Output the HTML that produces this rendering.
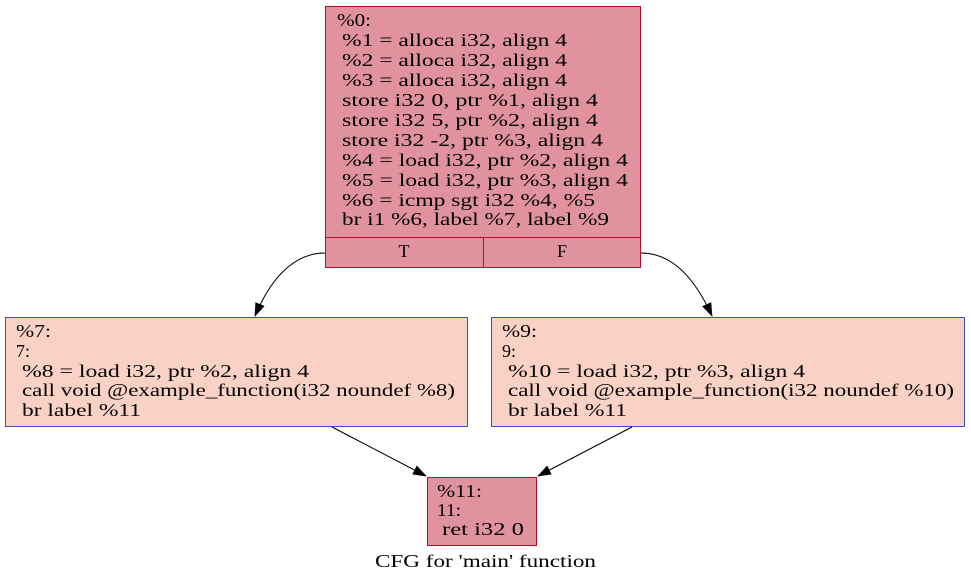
<!DOCTYPE html>
<html><head><meta charset="utf-8"><style>html,body{margin:0;padding:0;background:#fff}svg{display:block}text{font-family:"Liberation Serif","DejaVu Serif",serif;font-size:18px;fill:#000}</style></head><body>
<svg width="971" height="584" viewBox="0 0 971 584" xmlns="http://www.w3.org/2000/svg">
<defs><marker id="a" markerWidth="14" markerHeight="12" refX="13" refY="6" orient="auto" markerUnits="userSpaceOnUse"><path d="M0,1 L14,6 L0,11 z" fill="#000"/></marker></defs>
<rect x="325.5" y="6.5" width="315" height="261" fill="#e0939e" stroke="#b70d28"/>
<line x1="325.5" y1="237.5" x2="640.5" y2="237.5" stroke="#b70d28"/>
<line x1="483.5" y1="237.5" x2="483.5" y2="267.5" stroke="#b70d28"/>
<g lengthAdjust="spacingAndGlyphs">
<text x="337" y="26" textLength="34" lengthAdjust="spacingAndGlyphs">%0:</text>
<text x="342" y="46" textLength="225" lengthAdjust="spacingAndGlyphs">%1 = alloca i32, align 4</text>
<text x="342" y="66" textLength="225" lengthAdjust="spacingAndGlyphs">%2 = alloca i32, align 4</text>
<text x="342" y="86" textLength="225" lengthAdjust="spacingAndGlyphs">%3 = alloca i32, align 4</text>
<text x="342" y="106" textLength="256" lengthAdjust="spacingAndGlyphs">store i32 0, ptr %1, align 4</text>
<text x="342" y="126" textLength="256" lengthAdjust="spacingAndGlyphs">store i32 5, ptr %2, align 4</text>
<text x="342" y="146" textLength="261" lengthAdjust="spacingAndGlyphs">store i32 -2, ptr %3, align 4</text>
<text x="342" y="166" textLength="286" lengthAdjust="spacingAndGlyphs">%4 = load i32, ptr %2, align 4</text>
<text x="342" y="186" textLength="286" lengthAdjust="spacingAndGlyphs">%5 = load i32, ptr %3, align 4</text>
<text x="342" y="206" textLength="253" lengthAdjust="spacingAndGlyphs">%6 = icmp sgt i32 %4, %5</text>
<text x="342" y="225" textLength="267" lengthAdjust="spacingAndGlyphs">br i1 %6, label %7, label %9</text>
<text x="404" y="257" text-anchor="middle">T</text>
<text x="562" y="257" text-anchor="middle">F</text>
</g>
<rect x="5.5" y="317.5" width="462" height="109" fill="#f9d2c5" stroke="#3d50c3"/>
<text x="16" y="337" textLength="35" lengthAdjust="spacingAndGlyphs">%7:</text>
<text x="16" y="357" textLength="14" lengthAdjust="spacingAndGlyphs">7:</text>
<text x="22" y="377" textLength="287" lengthAdjust="spacingAndGlyphs">%8 = load i32, ptr %2, align 4</text>
<text x="22" y="396" textLength="433" lengthAdjust="spacingAndGlyphs">call void @example_function(i32 noundef %8)</text>
<text x="22" y="416" textLength="119" lengthAdjust="spacingAndGlyphs">br label %11</text>
<rect x="491.5" y="317.5" width="473" height="109" fill="#f9d2c5" stroke="#3d50c3"/>
<text x="502" y="337" textLength="35" lengthAdjust="spacingAndGlyphs">%9:</text>
<text x="502" y="357" textLength="14" lengthAdjust="spacingAndGlyphs">9:</text>
<text x="508" y="377" textLength="297" lengthAdjust="spacingAndGlyphs">%10 = load i32, ptr %3, align 4</text>
<text x="508" y="396" textLength="446" lengthAdjust="spacingAndGlyphs">call void @example_function(i32 noundef %10)</text>
<text x="508" y="416" textLength="119" lengthAdjust="spacingAndGlyphs">br label %11</text>
<rect x="427.5" y="477.5" width="109" height="68" fill="#e0939e" stroke="#b70d28"/>
<text x="437" y="497" textLength="45" lengthAdjust="spacingAndGlyphs">%11:</text>
<text x="437" y="516" textLength="24" lengthAdjust="spacingAndGlyphs">11:</text>
<text x="442" y="535" textLength="82" lengthAdjust="spacingAndGlyphs">ret i32 0</text>
<text x="375" y="567" textLength="221" lengthAdjust="spacingAndGlyphs">CFG for 'main' function</text>
<path d="M325,253 C290,253 268,285 255,316" fill="none" stroke="#000" marker-end="url(#a)"/>
<path d="M641,253 C676,253 698,285 712,316" fill="none" stroke="#000" marker-end="url(#a)"/>
<path d="M332,427 L426,476" fill="none" stroke="#000" marker-end="url(#a)"/>
<path d="M632,427 L538,476" fill="none" stroke="#000" marker-end="url(#a)"/>
</svg>
</body></html>
